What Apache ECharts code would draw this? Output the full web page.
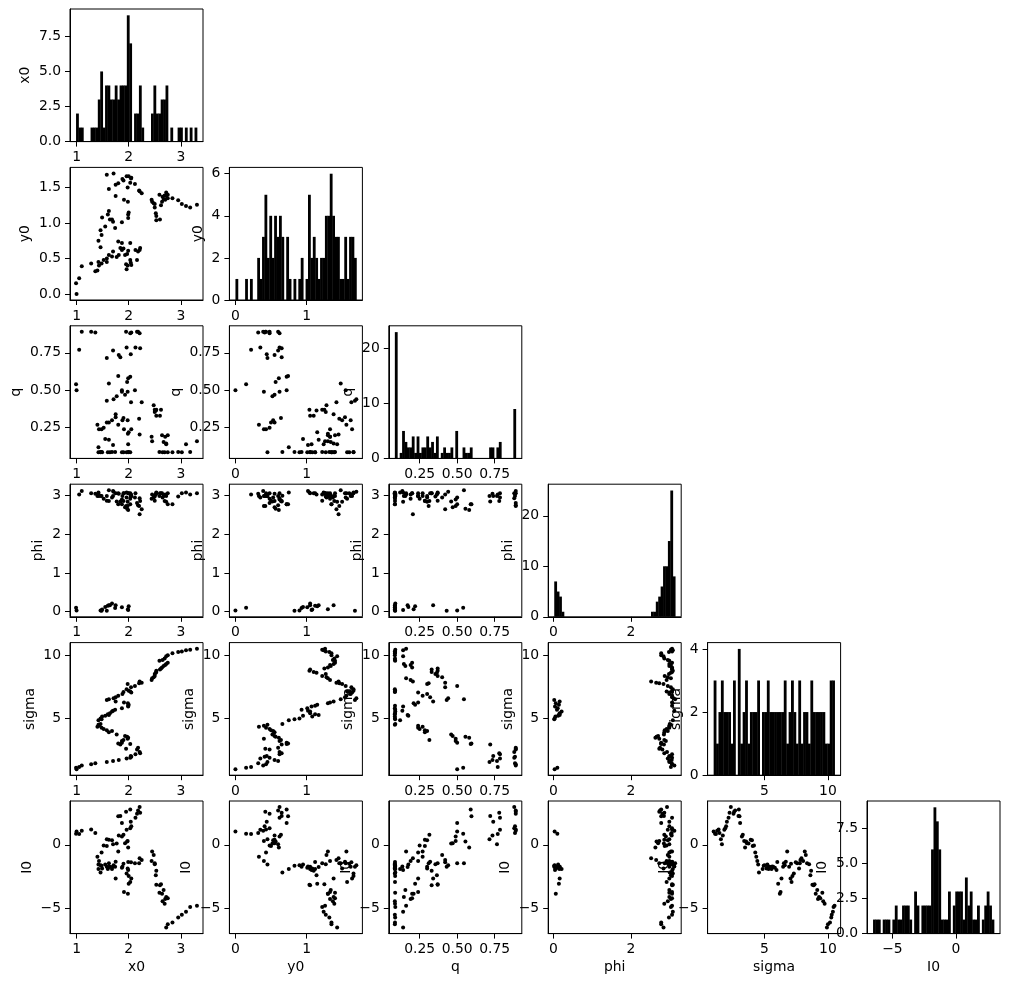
<!DOCTYPE html>
<html>
<head>
<meta charset="utf-8">
<script src="https://cdn.jsdelivr.net/npm/echarts@6/dist/echarts.min.js"></script>
<style>
  html, body { margin: 0; background: #fff; }
  #chart { width: 1010px; height: 987px; }
</style>
</head>
<body>
<div id="chart"></div>
<script>
// parameter names, in corner order
const names = ['x0', 'y0', 'q', 'phi', 'sigma', 'I0']

// samples (ordered by sigma)
const sigma = [1.02, 1.13, 1.20, 1.30,
  1.41, 1.48, 1.59, 1.67, 1.74, 1.86, 1.93,
  2.00, 2.06, 2.19, 2.27, 2.37, 2.58, 2.63, 2.71, 3.00, 2.97, 3.05,
  3.10, 3.24, 3.31, 3.42, 3.49, 3.57, 3.63, 3.76, 3.93, 4.03, 4.09, 4.19, 4.29, 4.37, 4.45,
  4.52, 4.58, 4.87, 4.95, 5.02, 5.18, 5.24, 5.28, 5.34, 5.42, 5.57, 5.62, 5.70, 5.83, 5.96, 6.02, 6.09, 6.22, 6.28, 6.35, 6.48,
  6.54, 6.61, 6.69, 6.80, 6.95, 7.06, 7.10, 7.14, 7.21, 7.32, 7.47, 7.58, 7.73, 7.79, 7.84, 7.92,
  8.05, 8.18, 8.26, 8.36, 8.52, 8.62, 8.68, 8.78, 8.88, 8.95, 9.04, 9.16, 9.22,
  9.30, 9.40, 9.56, 9.63, 9.74, 9.92, 10.00, 10.16, 10.26, 10.30, 10.39, 10.44, 10.52]

const x0 = [1.00, 0.99, 1.05, 1.10,
  1.28, 1.36, 1.58, 1.70, 1.81, 1.96, 2.03,
  2.05, 2.04, 2.13, 2.22, 2.21, 2.16, 1.95, 2.18, 2.03, 1.84, 1.80,
  1.87, 1.87, 1.90, 1.98, 1.99, 1.97, 1.93, 1.77, 1.62, 1.68, 1.58, 1.52, 1.48, 1.40, 1.43,
  1.42, 1.46, 1.42, 1.48, 1.46, 1.49, 1.55, 1.62, 1.60, 1.64, 1.68, 1.70, 1.74, 1.87, 1.99, 1.99, 2.00, 1.985, 1.91, 1.75, 1.58,
  1.62, 1.71, 1.75, 1.80, 1.88, 2.05, 1.90, 2.03, 2.00, 1.96, 2.045, 2.12, 1.98, 2.20, 2.25, 2.21,
  2.44, 2.45, 2.48, 2.50, 2.50, 2.52, 2.53, 2.53, 2.60, 2.62, 2.64, 2.67, 2.70,
  2.72, 2.75, 2.59, 2.65, 2.69, 2.72, 2.75, 2.84, 2.95, 3.02, 3.10, 3.18, 3.31]

const y0 = [0.00, 0.15, 0.22, 0.39,
  0.43, 0.32, 0.45, 0.60, 0.55, 0.35, 0.48,
  0.41, 0.44, 0.62, 0.65, 0.62, 0.48, 0.42, 0.60, 0.72, 0.65, 0.74,
  0.72, 0.62, 0.64, 0.40, 0.61, 0.565, 0.55, 0.52, 0.55, 0.53, 0.50, 0.48, 0.43, 0.33, 0.40,
  0.45, 0.66, 0.75, 0.83, 0.90, 1.08, 0.95, 1.17, 1.12, 1.05, 1.05, 1.02, 0.93, 1.01, 1.07, 1.12, 1.15, 1.30, 1.33, 1.38, 1.68,
  1.48, 1.70, 1.54, 1.56, 1.62, 1.64, 1.60, 1.57, 1.66, 1.66, 1.63, 1.55, 1.50, 1.46, 1.42, 1.45,
  1.33, 1.30, 1.28, 1.22, 1.27, 1.14, 1.10, 1.04, 1.05, 1.25, 1.30, 1.34, 1.33,
  1.38, 1.40, 1.40, 1.37, 1.39, 1.43, 1.35, 1.35, 1.32, 1.27, 1.24, 1.22, 1.26]

const q = [0.50, 0.54, 0.77, 0.89,
  0.89, 0.885, 0.715, 0.765, 0.735, 0.785, 0.88,
  0.885, 0.74, 0.785, 0.78, 0.88, 0.89, 0.89, 0.89, 0.59, 0.72, 0.595,
  0.50, 0.49, 0.315, 0.49, 0.58, 0.555, 0.47, 0.46, 0.285, 0.30, 0.285, 0.25, 0.24, 0.27, 0.24,
  0.085, 0.088, 0.12, 0.087, 0.086, 0.085, 0.175, 0.17, 0.085, 0.086, 0.088, 0.135, 0.087, 0.085, 0.14, 0.086, 0.22, 0.21, 0.24, 0.34, 0.43,
  0.545, 0.44, 0.32, 0.27, 0.30, 0.24, 0.085, 0.086, 0.087, 0.085, 0.42, 0.50, 0.30, 0.31, 0.42, 0.205,
  0.19, 0.16, 0.40, 0.37, 0.355, 0.365, 0.33, 0.37, 0.33, 0.37, 0.20, 0.155, 0.19,
  0.145, 0.20, 0.087, 0.085, 0.086, 0.14, 0.085, 0.086, 0.087, 0.085, 0.14, 0.088, 0.16]

const phi = [0.03, 0.10, 3.03, 3.12,
  3.06, 3.05, 2.99, 2.99, 3.05, 2.95, 3.06,
  2.99, 2.99, 3.06, 2.86, 2.93, 2.81, 2.73, 2.75, 2.78, 2.85, 2.78,
  2.78, 2.90, 2.86, 2.73, 2.63, 2.66, 2.70, 2.85, 2.86, 2.95, 2.87, 2.92, 2.99, 2.99, 2.99,
  3.03, 3.00, 3.08, 0.02, 0.03, 0.05, 0.12, 0.16, 0.15, 0.16, 0.21, 3.12, 0.09, 0.11, 0.04, 3.06, 0.14, 0.06, 3.06, 0.16, 0.02,
  3.14, 3.10, 3.06, 3.06, 2.99, 2.99, 3.06, 2.92, 3.06, 3.08, 3.03, 2.95, 2.84, 2.73, 2.65, 2.52,
  2.92, 3.03, 2.95, 2.87, 2.98, 3.03, 3.06, 3.08, 3.06, 3.06, 3.06, 2.99, 3.03,
  2.99, 3.06, 2.99, 2.95, 2.86, 2.84, 2.78, 2.78, 2.98, 3.06, 3.08, 3.03, 3.06]

const I0 = [1.06, 0.88, 0.85, 1.12,
  1.20, 0.93, 0.45, 0.05, 0.74, 1.18, 1.30,
  1.46, 1.81, 2.13, 2.53, 2.98, 2.45, 2.60, 2.70, 2.79, 2.28, 2.25,
  1.73, 0.66, 0.80, 0.30, -0.21, 0.27, 0.13, 0.10, 0.40, 0.36, -0.10, -0.05, -0.60, -0.93, -1.28,
  -1.55, -2.18, -1.91, -1.65, -1.60, -1.86, -1.55, -1.75, -1.91, -1.73, -1.91, -1.70, -1.73, -1.81, -1.99, -1.35, -3.06, -3.86, -3.72, -2.66, -1.73,
  -1.46, -1.60, -1.33, -0.53, -1.73, -2.66, -1.50, -2.93, -2.45, -2.26, -1.38, -1.46, -1.86, -1.45, -1.20, -1.06,
  -1.28, -0.53, -0.80, -1.46, -1.52, -2.39, -2.05, -3.14, -3.19, -3.10, -3.86, -3.55, -4.26,
  -4.12, -4.20, -3.78, -4.45, -4.65, -6.52, -6.25, -6.12, -5.72, -5.50, -5.27, -4.90, -4.80]

const samples = [x0, y0, q, phi, sigma, I0]

// tick positions as printed on the reference
const xTicks = { x0: [1, 2, 3], y0: [0, 1], q: [0.25, 0.5, 0.75], phi: [0, 2], sigma: [5, 10], I0: [-5, 0] }
const yTicks = { y0: [0, 0.5, 1, 1.5], q: [0.25, 0.5, 0.75], phi: [0, 1, 2, 3], sigma: [5, 10], I0: [-5, 0] }
const countTicks = { x0: [0, 2.5, 5, 7.5], y0: [0, 2, 4, 6], q: [0, 10, 20], phi: [0, 10, 20], sigma: [0, 2, 4], I0: [0, 2.5, 5, 7.5] }
const nBins = 50

// layout
const LEFT = 70, TOP = 9, CW = 133, CH = 132.6, DX = 159.4, DY = 158.4
const FONT = 'DejaVu Sans', FS = 13.9

const ctx = document.createElement('canvas').getContext('2d')
ctx.font = FS + 'px "' + FONT + '"'

const decimals = ticks => Math.max(...ticks.map(t => (String(t).split('.')[1] || '').length))
const fmt = (v, d) => v.toFixed(d).replace('-', '\u2212')
const labelWidth = ticks => {
  const d = decimals(ticks)
  return Math.max(...ticks.map(t => ctx.measureText(fmt(t, d)).width))
}

const extent = arr => {
  const lo = Math.min(...arr), hi = Math.max(...arr), pad = (hi - lo) * 0.05
  return [lo - pad, hi + pad]
}

const histogram = arr => {
  const lo = Math.min(...arr), hi = Math.max(...arr), w = (hi - lo) / nBins
  const counts = new Array(nBins).fill(0)
  arr.forEach(v => { counts[Math.min(nBins - 1, Math.floor((v - lo) / w))]++ })
  return counts.map((c, i) => [lo + i * w, lo + (i + 1) * w, c]).filter(b => b[2] > 0)
}

const black = { color: '#000', width: 1 }
const textStyle = { color: '#000', fontFamily: FONT, fontSize: FS }

function axis(min, max, ticks, extra) {
  const d = decimals(ticks)
  return Object.assign({
    type: 'value', min, max,
    axisLine: { show: true, onZero: false, lineStyle: black },
    axisTick: { show: true, length: 5, lineStyle: black, customValues: ticks },
    axisLabel: Object.assign({ margin: 9, customValues: ticks, formatter: v => fmt(v, d) }, textStyle),
    splitLine: { show: false }
  }, extra)
}

const grid = [], xAxis = [], yAxis = [], series = []

for (let r = 0; r < 6; r++) {
  for (let c = 0; c <= r; c++) {
    const idx = grid.length
    grid.push({
      left: LEFT + c * DX, top: TOP + r * DY, width: CW, height: CH,
      show: true, borderColor: '#000', borderWidth: 1, containLabel: false
    })
    const [xmin, xmax] = extent(samples[c])
    const xt = xTicks[names[c]]
    xAxis.push(axis(xmin, xmax, xt, Object.assign({ gridIndex: idx },
      r === 5 ? { name: names[c], nameLocation: 'middle', nameGap: 27, nameTextStyle: textStyle } : {})))

    if (r === c) {
      const bins = histogram(samples[c])
      const maxc = Math.max(...bins.map(b => b[2]))
      const yt = countTicks[names[r]]
      yAxis.push(axis(0, maxc * 1.05, yt, {
        gridIndex: idx, name: names[r], nameLocation: 'middle', nameRotate: 90,
        nameGap: labelWidth(yt) + 15.3, nameTextStyle: textStyle
      }))
      series.push({
        type: 'custom', xAxisIndex: idx, yAxisIndex: idx, data: bins,
        encode: { x: [0, 1], y: 2 },
        renderItem: (params, api) => {
          const a = api.coord([api.value(0), 0])
          const b = api.coord([api.value(1), api.value(2)])
          return {
            type: 'rect',
            shape: { x: a[0], y: b[1], width: b[0] - a[0] + 0.4, height: a[1] - b[1] },
            style: { fill: '#000' }
          }
        }
      })
    } else {
      const [ymin, ymax] = extent(samples[r])
      const yt = yTicks[names[r]]
      yAxis.push(axis(ymin, ymax, yt, {
        gridIndex: idx, name: names[r], nameLocation: 'middle', nameRotate: 90,
        nameGap: labelWidth(yt) + 15.3, nameTextStyle: textStyle
      }))
      series.push({
        type: 'scatter', xAxisIndex: idx, yAxisIndex: idx,
        symbol: 'circle', symbolSize: 4,
        itemStyle: { color: '#000', opacity: 1 },
        data: samples[c].map((v, i) => [v, samples[r][i]])
      })
    }
  }
}

const chart = echarts.init(document.getElementById('chart'), null, { renderer: 'canvas' })
chart.setOption({ animation: false, backgroundColor: '#fff', grid, xAxis, yAxis, series })
</script>
</body>
</html>
